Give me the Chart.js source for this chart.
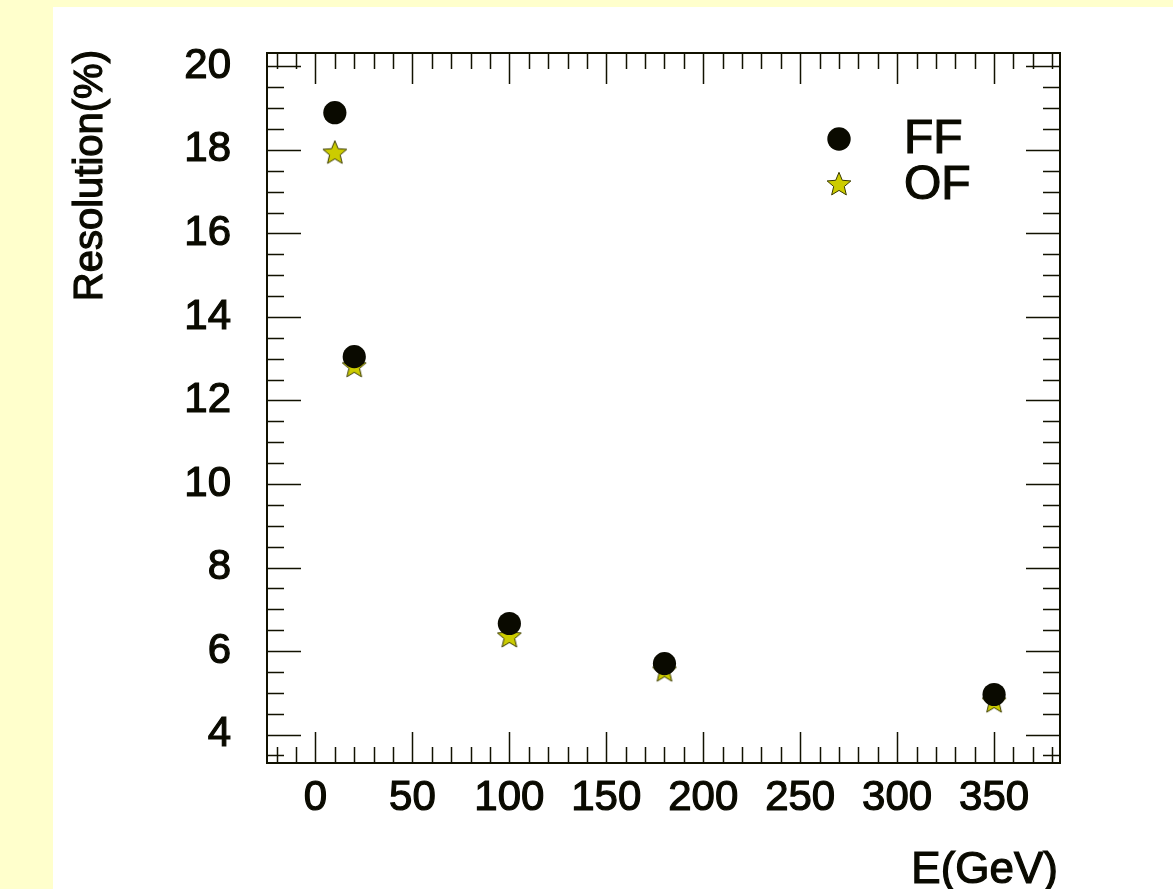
<!DOCTYPE html>
<html>
<head>
<meta charset="utf-8">
<script src="https://cdn.jsdelivr.net/npm/chart.js@4.4.0/dist/chart.umd.min.js"></script>
<style>
  html, body { margin: 0; padding: 0; background: #FFFFCC; width: 1173px; height: 889px; overflow: hidden; }
  #panel { position: absolute; left: 53px; top: 7px; width: 1120px; height: 882px; background: #ffffff; }
  canvas { display: block; }
</style>
</head>
<body>
<div id="panel"><canvas id="c" width="1120" height="882"></canvas></div>
<script>
const energies = [10, 20, 100, 180, 350];
const ffValues = [18.89, 13.05, 6.66, 5.70, 4.96];
const ofValues = [17.94, 12.83, 6.36, 5.54, 4.80];
const xTickValues = [0, 50, 100, 150, 200, 250, 300, 350];
const yTickValues = [4, 6, 8, 10, 12, 14, 16, 18, 20];
const seriesNames = ['FF', 'OF'];
const xTitle = 'E(GeV)';
const yTitle = 'Resolution(%)';

const FONT = '"Liberation Sans", Arial, Helvetica, sans-serif';
const INK = '#0a0a00';
const STAR_FILL = '#cccc00';
const STAR_EDGE = '#3a3a00';

function makeStar(size, outer, inner) {
  const cv = document.createElement('canvas');
  cv.width = size; cv.height = size;
  const g = cv.getContext('2d');
  const c = size / 2;
  g.beginPath();
  for (let i = 0; i < 10; i++) {
    const r = i % 2 === 0 ? outer : inner;
    const a = -Math.PI / 2 + i * Math.PI / 5;
    const px = c + r * Math.cos(a), py = c + r * Math.sin(a) + 0.8;
    if (i === 0) g.moveTo(px, py); else g.lineTo(px, py);
  }
  g.closePath();
  g.fillStyle = STAR_FILL;
  g.fill();
  g.lineWidth = 1;
  g.strokeStyle = STAR_EDGE;
  g.stroke();
  return cv;
}
const starImg = makeStar(28, 12.5, 5.6);

function heavyText(ctx, text, x, y) {
  ctx.fillText(text, x, y);
  ctx.strokeText(text, x, y);
}

const frameTicks = {
  id: 'frameTicks',
  afterDatasetsDraw(chart) {
    const ctx = chart.ctx;
    const a = chart.chartArea;
    const xs = chart.scales.x, ys = chart.scales.y;
    ctx.save();
    ctx.strokeStyle = '#111100';
    ctx.lineWidth = 1.5;
    const xStart = Math.ceil(xs.min / 10) * 10;
    for (let v = xStart; v <= xs.max + 1e-9; v += 10) {
      const px = Math.round(xs.getPixelForValue(v)) + 0.5;
      const major = Math.abs(v % 50) < 1e-9;
      const len = major ? 31 : 16;
      ctx.beginPath();
      ctx.moveTo(px, a.bottom); ctx.lineTo(px, a.bottom - len);
      ctx.moveTo(px, a.top); ctx.lineTo(px, a.top + len);
      ctx.stroke();
    }
    const yStart = Math.ceil(ys.min * 2) / 2;
    for (let v = yStart; v <= ys.max + 1e-9; v += 0.5) {
      const py = Math.round(ys.getPixelForValue(v)) + 0.5;
      const major = Math.abs(v % 2) < 1e-9;
      const len = major ? 34 : 17;
      ctx.beginPath();
      ctx.moveTo(a.left, py); ctx.lineTo(a.left + len, py);
      ctx.moveTo(a.right, py); ctx.lineTo(a.right - len, py);
      ctx.stroke();
    }
    ctx.lineWidth = 2;
    ctx.strokeStyle = '#111100';
    ctx.strokeRect(a.left, a.top, a.right - a.left, a.bottom - a.top);
    ctx.restore();
  },
  afterDraw(chart) {
    const ctx = chart.ctx;
    const a = chart.chartArea;
    ctx.save();
    // legend
    const lx = 786, ly = [132, 177];
    ctx.fillStyle = INK;
    ctx.beginPath();
    ctx.arc(lx, ly[0], 11.7, 0, Math.PI * 2);
    ctx.fill();
    ctx.drawImage(starImg, lx - starImg.width / 2, ly[1] - starImg.height / 2);
    ctx.font = '48px ' + FONT;
    ctx.textBaseline = 'middle';
    ctx.textAlign = 'left';
    ctx.fillStyle = INK;
    ctx.strokeStyle = INK;
    ctx.lineWidth = 1.2;
    heavyText(ctx, chart.data.datasets[0].label, 851, ly[0] + 1);
    heavyText(ctx, chart.data.datasets[1].label, 851, ly[1] + 2);
    // axis titles
    ctx.font = '44px ' + FONT;
    ctx.textAlign = 'right';
    heavyText(ctx, xTitle, a.right - 2, 864);
    ctx.translate(38, a.top - 3);
    ctx.rotate(-Math.PI / 2);
    ctx.font = '40px ' + FONT;
    ctx.textAlign = 'right';
    heavyText(ctx, yTitle, 0, 0);
    ctx.restore();
  }
};

new Chart(document.getElementById('c'), {
  type: 'scatter',
  data: {
    datasets: [
      {
        label: seriesNames[0],
        data: energies.map((e, i) => ({ x: e, y: ffValues[i] })),
        pointStyle: 'circle',
        pointRadius: 11.6,
        pointBackgroundColor: INK,
        pointBorderColor: INK,
        pointBorderWidth: 0,
        showLine: false
      },
      {
        label: seriesNames[1],
        data: energies.map((e, i) => ({ x: e, y: ofValues[i] })),
        pointStyle: starImg,
        pointRadius: 12,
        showLine: false
      }
    ]
  },
  plugins: [frameTicks],
  options: {
    responsive: false,
    animation: false,
    events: [],
    layout: { padding: { left: 0, top: 46, right: 113, bottom: 0 } },
    plugins: {
      legend: { display: false },
      tooltip: { enabled: false }
    },
    scales: {
      x: {
        type: 'linear',
        min: -25,
        max: 384,
        afterFit(scale) {
          scale.height = 126;
          scale.paddingLeft = 0; scale.paddingRight = 0;
        },
        afterBuildTicks(scale) { scale.ticks = xTickValues.map(v => ({ value: v })); },
        grid: { display: false, drawTicks: false },
        border: { display: false },
        ticks: {
          padding: 10,
          color: INK,
          textStrokeColor: INK,
          textStrokeWidth: 1.2,
          font: { family: FONT, size: 42 },
          maxRotation: 0,
          autoSkip: false
        },
        title: { display: false }
      },
      y: {
        type: 'linear',
        min: 3.32,
        max: 20.32,
        afterFit(scale) {
          scale.width = 214;
          scale.paddingTop = 0; scale.paddingBottom = 0;
        },
        afterBuildTicks(scale) { scale.ticks = yTickValues.map(v => ({ value: v })); },
        grid: { display: false, drawTicks: false },
        border: { display: false },
        ticks: {
          padding: 36,
          color: INK,
          textStrokeColor: INK,
          textStrokeWidth: 1.2,
          font: { family: FONT, size: 42 },
          autoSkip: false
        },
        title: { display: false }
      }
    }
  }
});
</script>
</body>
</html>
